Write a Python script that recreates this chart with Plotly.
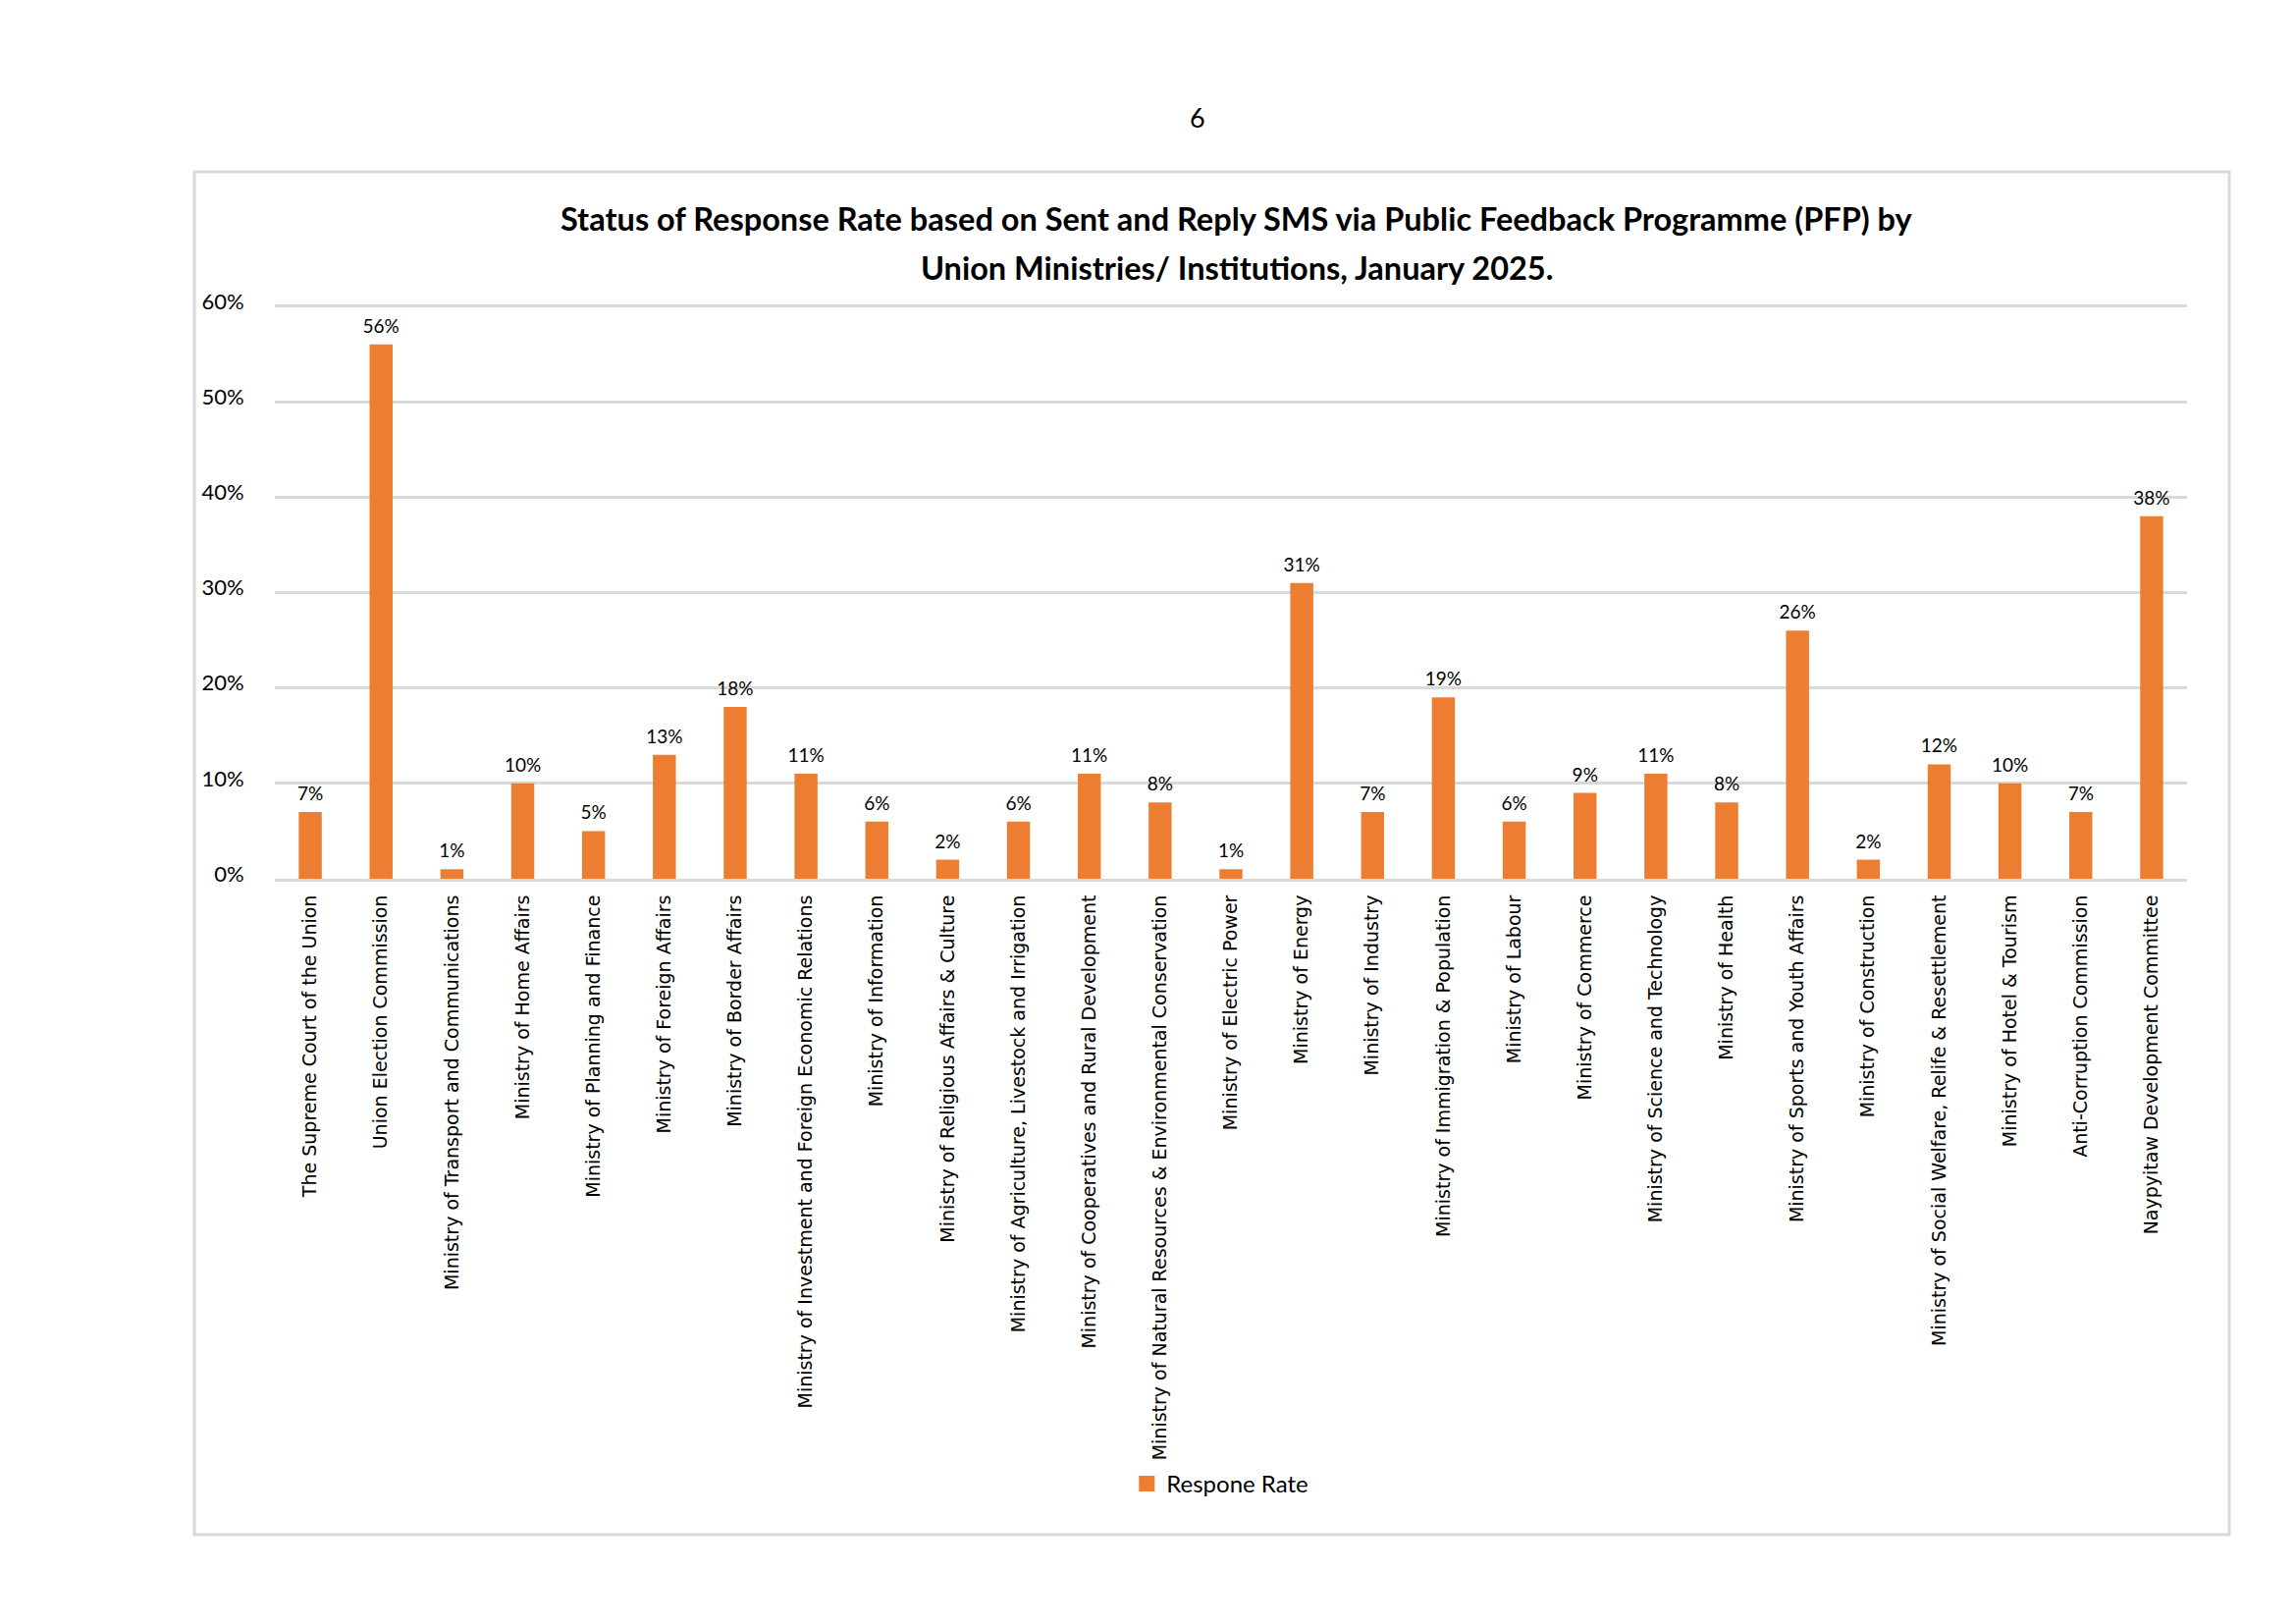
import plotly.graph_objects as go

# categories and response rates (%)
ministerios = [
    "The Supreme Court of the Union",
    "Union Election Commission",
    "Ministry of Transport and Communications",
    "Ministry of Home Affairs",
    "Ministry of Planning and Finance",
    "Ministry of Foreign Affairs",
    "Ministry of Border Affairs",
    "Ministry of Investment and Foreign Economic Relations",
    "Ministry of Information",
    "Ministry of Religious Affairs & Culture",
    "Ministry of Agriculture, Livestock and Irrigation",
    "Ministry of Cooperatives and Rural Development",
    "Ministry of Natural Resources & Environmental Conservation",
    "Ministry of Electric Power",
    "Ministry of Energy",
    "Ministry of Industry",
    "Ministry of Immigration & Population",
    "Ministry of Labour",
    "Ministry of Commerce",
    "Ministry of Science and Technology",
    "Ministry of Health",
    "Ministry of Sports and Youth Affairs",
    "Ministry of Construction",
    "Ministry of Social Welfare, Relife & Resettlement",
    "Ministry of Hotel & Tourism",
    "Anti-Corruption Commission",
    "Naypyitaw Development Committee",
]
tasa = [7, 56, 1, 10, 5, 13, 18, 11, 6, 2, 6, 11, 8, 1, 31, 7, 19, 6, 9, 11, 8, 26, 2, 12, 10, 7, 38]

etiquetas = [f"{v}%" for v in tasa]
eje_y = [0, 10, 20, 30, 40, 50, 60]

naranja = "#ED7D31"
gris = "#D9D9D9"
fuente = "Lato"

fig = go.Figure()

fig.add_trace(go.Bar(
    x=ministerios, y=tasa, name="Respone Rate",
    marker=dict(color=naranja, line=dict(width=0)),
    showlegend=False, hoverinfo="skip",
))

# data labels above each bar
fig.add_trace(go.Scatter(
    x=ministerios, y=tasa, text=etiquetas, mode="markers+text",
    textposition="top center",
    marker=dict(size=10, opacity=0),
    textfont=dict(family=fuente, size=19, color="#000000"),
    showlegend=False, hoverinfo="skip", cliponaxis=False,
))

# legend entry (bigger square than the bar legend gives)
fig.add_trace(go.Scatter(
    x=[None], y=[None], mode="markers", name="Respone Rate",
    marker=dict(symbol="square", size=16, color=naranja),
    showlegend=True, hoverinfo="skip",
))

fig.update_layout(
    width=2339, height=1654,
    margin=dict(l=272, r=119, t=301, b=767),
    paper_bgcolor="white", plot_bgcolor="white",
    bargap=0.675,
    font=dict(family=fuente, color="#000000"),
    showlegend=True,
    legend=dict(
        orientation="h", x=0.4945, xanchor="center", y=-1.052, yanchor="middle",
        font=dict(family=fuente, size=24, color="#000000"),
    ),
)

fig.update_xaxes(
    range=[-0.5, len(ministerios) - 0.5],
    tickangle=-90, tickfont=dict(family="DejaVu Sans", size=19, color="#000000"),
    showline=True, linecolor=gris, linewidth=3, showgrid=False,
    ticks="outside", ticklen=6, tickcolor="rgba(0,0,0,0)",
)
fig.update_yaxes(
    range=[0, 60.3], tickvals=eje_y, ticktext=[f"{v}%" for v in eje_y],
    tickfont=dict(family=fuente, size=22, color="#000000"),
    showgrid=True, gridcolor=gris, gridwidth=3, zeroline=False,
    ticks="outside", ticklen=26, tickcolor="rgba(0,0,0,0)",
    ticklabelshift=-5,
)

# chart border
fig.add_shape(type="rect", xref="paper", yref="paper",
              x0=-0.0421, x1=1.0221, y0=-1.140, y1=1.2287,
              line=dict(color=gris, width=3), layer="below")

# title lines and page number
fig.add_annotation(text="<b>Status of Response Rate based on Sent and Reply SMS via Public Feedback Programme (PFP) by</b>",
                   xref="paper", yref="paper", x=0.503, y=1.1484, showarrow=False,
                   xanchor="center", yanchor="middle",
                   font=dict(family=fuente, size=32.5, color="#000000"))
fig.add_annotation(text="<b>Union Ministries/ Institutions, January 2025.</b>",
                   xref="paper", yref="paper", x=0.503, y=1.0631, showarrow=False,
                   xanchor="center", yanchor="middle",
                   font=dict(family=fuente, size=32.5, color="#000000"))
fig.add_annotation(text="6", xref="paper", yref="paper", x=0.4825, y=1.3234,
                   showarrow=False, xanchor="center", yanchor="middle",
                   font=dict(family=fuente, size=27, color="#000000"))

fig.write_html("out.html")
